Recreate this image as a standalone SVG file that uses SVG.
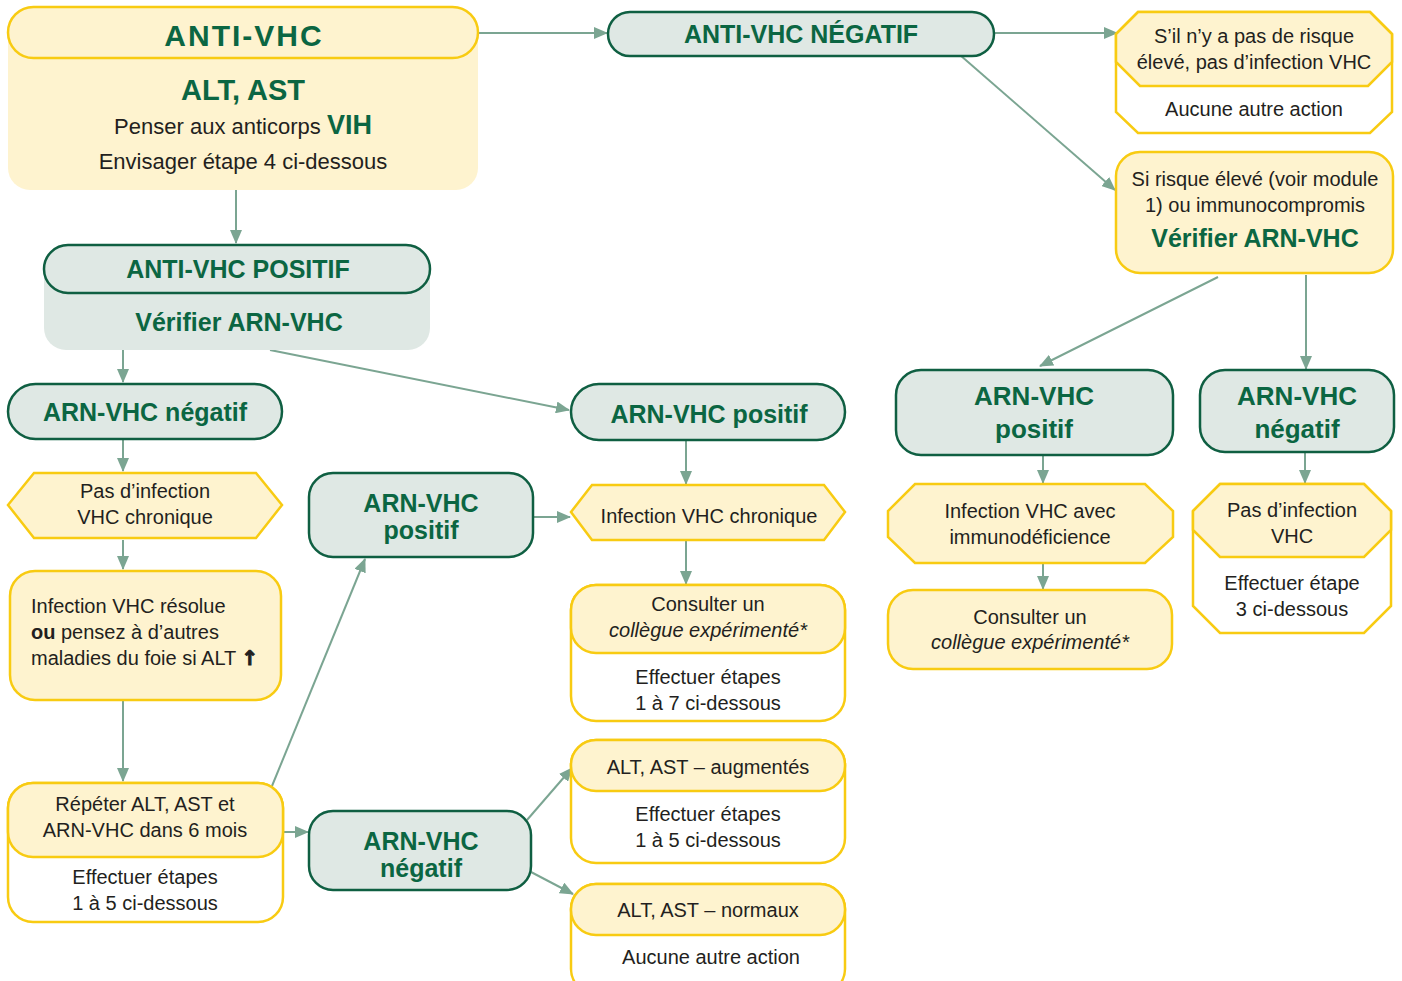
<svg xmlns="http://www.w3.org/2000/svg" width="1402" height="981" viewBox="0 0 1402 981">
<defs>
<marker id="a" markerUnits="userSpaceOnUse" markerWidth="14" markerHeight="12" refX="13" refY="6" orient="auto">
<path d="M0,0 L14,6 L0,12 z" fill="#7BA592"/>
</marker>
<style>
.y{fill:#FEF3CF;stroke:#F8CB12;stroke-width:2.5}
.yf{fill:#FEF3CF;stroke:none}
.w{fill:#FFFFFF;stroke:#F8CB12;stroke-width:2.5}
.g{fill:#DFE8E4;stroke:#0F5F42;stroke-width:2.5}
.gf{fill:#DFE8E4;stroke:none}
.t{font-family:"Liberation Sans",Arial,sans-serif;font-size:20px;fill:#231F20;text-anchor:middle}
.h{font-weight:bold;fill:#0B6642;font-size:25px}
.i{font-style:italic}
.c{stroke:#7BA592;stroke-width:2;fill:none;marker-end:url(#a)}
</style>
</defs>
<rect width="1402" height="981" fill="#FFFFFF"/>

<g id="connectors">
<line class="c" x1="479" y1="33" x2="607" y2="33"/>
<line class="c" x1="995" y1="33" x2="1117" y2="33"/>
<line class="c" x1="960" y1="55" x2="1115" y2="190"/>
<line class="c" x1="236" y1="190" x2="236" y2="243"/>
<line class="c" x1="123" y1="350" x2="123" y2="382"/>
<line class="c" x1="270" y1="350" x2="569" y2="410"/>
<line class="c" x1="123" y1="440" x2="123" y2="471"/>
<line class="c" x1="123" y1="540" x2="123" y2="569"/>
<line class="c" x1="123" y1="701" x2="123" y2="781"/>
<line class="c" x1="272" y1="786" x2="365" y2="559"/>
<line class="c" x1="284" y1="832" x2="308" y2="832"/>
<line class="c" x1="533" y1="517" x2="570" y2="517"/>
<line class="c" x1="686" y1="440" x2="686" y2="484"/>
<line class="c" x1="686" y1="540" x2="686" y2="584"/>
<line class="c" x1="527" y1="820" x2="572" y2="768"/>
<line class="c" x1="531" y1="872" x2="573" y2="894"/>
<line class="c" x1="1218" y1="277" x2="1040" y2="366"/>
<line class="c" x1="1306" y1="275" x2="1306" y2="369"/>
<line class="c" x1="1043" y1="456" x2="1043" y2="483"/>
<line class="c" x1="1305" y1="453" x2="1305" y2="483"/>
<line class="c" x1="1043" y1="563" x2="1043" y2="589"/>
</g>

<g id="n-anti-vhc">
<rect class="yf" x="8" y="7" width="470" height="183" rx="22"/>
<rect class="y" x="8" y="7" width="470" height="51" rx="25.5"/>
<text class="t h" x="244" y="46" letter-spacing="2" style="font-size:30px">ANTI-VHC</text>
<text class="t h" x="243" y="100" style="font-size:29px">ALT, AST</text>
<text class="t" x="243" y="134" style="font-size:22px">Penser aux anticorps <tspan font-weight="bold" fill="#0B6642" style="font-size:27px">VIH</tspan></text>
<text class="t" x="243" y="169" style="font-size:22px">Envisager étape 4 ci-dessous</text>
</g>

<g id="n-anti-neg">
<rect class="g" x="608" y="12" width="386" height="44" rx="22"/>
<text class="t h" x="801" y="43">ANTI-VHC NÉGATIF</text>
</g>

<g id="n-pas-risque">
<polygon class="w" points="1138,12 1370,12 1392,34 1392,112 1370,133 1138,133 1116,112 1116,34"/>
<polygon class="y" points="1138,12 1370,12 1392,34 1392,62 1368,86 1140,86 1116,62 1116,34"/>
<text class="t" x="1254" y="43">S’il n’y a pas de risque</text>
<text class="t" x="1254" y="69">élevé, pas d’infection VHC</text>
<text class="t" x="1254" y="116">Aucune autre action</text>
</g>

<g id="n-risque-eleve">
<rect class="y" x="1116" y="152" width="277" height="121" rx="24"/>
<text class="t" x="1255" y="186">Si risque élevé (voir module</text>
<text class="t" x="1255" y="212">1) ou immunocompromis</text>
<text class="t h" x="1255" y="247">Vérifier ARN-VHC</text>
</g>

<g id="n-anti-pos">
<rect class="gf" x="44" y="245" width="386" height="105" rx="22"/>
<rect class="g" x="44" y="245" width="386" height="48" rx="24"/>
<text class="t h" x="238" y="278">ANTI-VHC POSITIF</text>
<text class="t h" x="239" y="331">Vérifier ARN-VHC</text>
</g>

<g id="n-arn-neg-left">
<rect class="g" x="8" y="384" width="274" height="55" rx="27.5"/>
<text class="t h" x="145" y="421">ARN-VHC négatif</text>
</g>

<g id="n-arn-pos-mid">
<rect class="g" x="571" y="384" width="274" height="56" rx="28"/>
<text class="t h" x="709" y="423">ARN-VHC positif</text>
</g>

<g id="n-pas-chronique">
<polygon class="y" points="8,505 34,473 256,473 282,505 256,538 34,538"/>
<text class="t" x="145" y="498">Pas d’infection</text>
<text class="t" x="145" y="524">VHC chronique</text>
</g>

<g id="n-resolue">
<rect class="y" x="10" y="571" width="271" height="129" rx="25"/>
<text class="t" x="31" y="613" style="text-anchor:start">Infection VHC résolue</text>
<text class="t" x="31" y="639" style="text-anchor:start"><tspan font-weight="bold">ou</tspan> pensez à d’autres</text>
<text class="t" x="31" y="665" style="text-anchor:start">maladies du foie si ALT <tspan font-weight="bold" font-family="DejaVu Sans, sans-serif" stroke="#231F20" stroke-width="1" style="font-size:20px">↑</tspan></text>
</g>

<g id="n-repeter">
<rect class="w" x="8" y="783" width="275" height="139" rx="25"/>
<rect class="y" x="8" y="783" width="275" height="74" rx="25"/>
<text class="t" x="145" y="811">Répéter ALT, AST et</text>
<text class="t" x="145" y="837">ARN-VHC dans 6 mois</text>
<text class="t" x="145" y="884">Effectuer étapes</text>
<text class="t" x="145" y="910">1 à 5 ci-dessous</text>
</g>

<g id="n-arn-pos-small">
<rect class="g" x="309" y="473" width="224" height="84" rx="24"/>
<text class="t h" x="421" y="512">ARN-VHC</text>
<text class="t h" x="421" y="539">positif</text>
</g>

<g id="n-chronique">
<polygon class="y" points="571,512 592,485 824,485 845,512 824,540 592,540"/>
<text class="t" x="709" y="523">Infection VHC chronique</text>
</g>

<g id="n-consulter-mid">
<rect class="w" x="571" y="585" width="274" height="136" rx="25"/>
<rect class="y" x="571" y="585" width="274" height="68" rx="25"/>
<text class="t" x="708" y="611">Consulter un</text>
<text class="t i" x="708" y="637">collègue expérimenté*</text>
<text class="t" x="708" y="684">Effectuer étapes</text>
<text class="t" x="708" y="710">1 à 7 ci-dessous</text>
</g>

<g id="n-arn-neg-small">
<rect class="g" x="309" y="811" width="222" height="79" rx="24"/>
<text class="t h" x="421" y="850">ARN-VHC</text>
<text class="t h" x="421" y="877">négatif</text>
</g>

<g id="n-augmentes">
<rect class="w" x="571" y="740" width="274" height="123" rx="25"/>
<rect class="y" x="571" y="740" width="274" height="51" rx="25"/>
<text class="t" x="708" y="774">ALT, AST – augmentés</text>
<text class="t" x="708" y="821">Effectuer étapes</text>
<text class="t" x="708" y="847">1 à 5 ci-dessous</text>
</g>

<g id="n-normaux">
<rect class="w" x="571" y="884" width="274" height="110" rx="25"/>
<rect class="y" x="571" y="884" width="274" height="51" rx="25"/>
<text class="t" x="708" y="917">ALT, AST – normaux</text>
<text class="t" x="711" y="964">Aucune autre action</text>
</g>

<g id="n-arn-pos-right">
<rect class="g" x="896" y="370" width="277" height="85" rx="25"/>
<text class="t h" x="1034" y="405" style="font-size:26px">ARN-VHC</text>
<text class="t h" x="1034" y="438" style="font-size:26px">positif</text>
</g>

<g id="n-arn-neg-right">
<rect class="g" x="1200" y="370" width="194" height="82" rx="25"/>
<text class="t h" x="1297" y="405" style="font-size:26px">ARN-VHC</text>
<text class="t h" x="1297" y="438" style="font-size:26px">négatif</text>
</g>

<g id="n-immuno">
<polygon class="y" points="915,484 1145,484 1173,511 1173,537 1145,563 915,563 888,537 888,511"/>
<text class="t" x="1030" y="518">Infection VHC avec</text>
<text class="t" x="1030" y="544">immunodéficience</text>
</g>

<g id="n-consulter-right">
<rect class="y" x="888" y="590" width="284" height="79" rx="25"/>
<text class="t" x="1030" y="624">Consulter un</text>
<text class="t i" x="1030" y="649">collègue expérimenté*</text>
</g>

<g id="n-pas-vhc">
<polygon class="w" points="1220,484 1364,484 1391,511 1391,606 1364,633 1220,633 1193,606 1193,511"/>
<polygon class="y" points="1220,484 1364,484 1391,511 1391,530 1364,557 1220,557 1193,530 1193,511"/>
<text class="t" x="1292" y="517">Pas d’infection</text>
<text class="t" x="1292" y="543">VHC</text>
<text class="t" x="1292" y="590">Effectuer étape</text>
<text class="t" x="1292" y="616">3 ci-dessous</text>
</g>
</svg>
